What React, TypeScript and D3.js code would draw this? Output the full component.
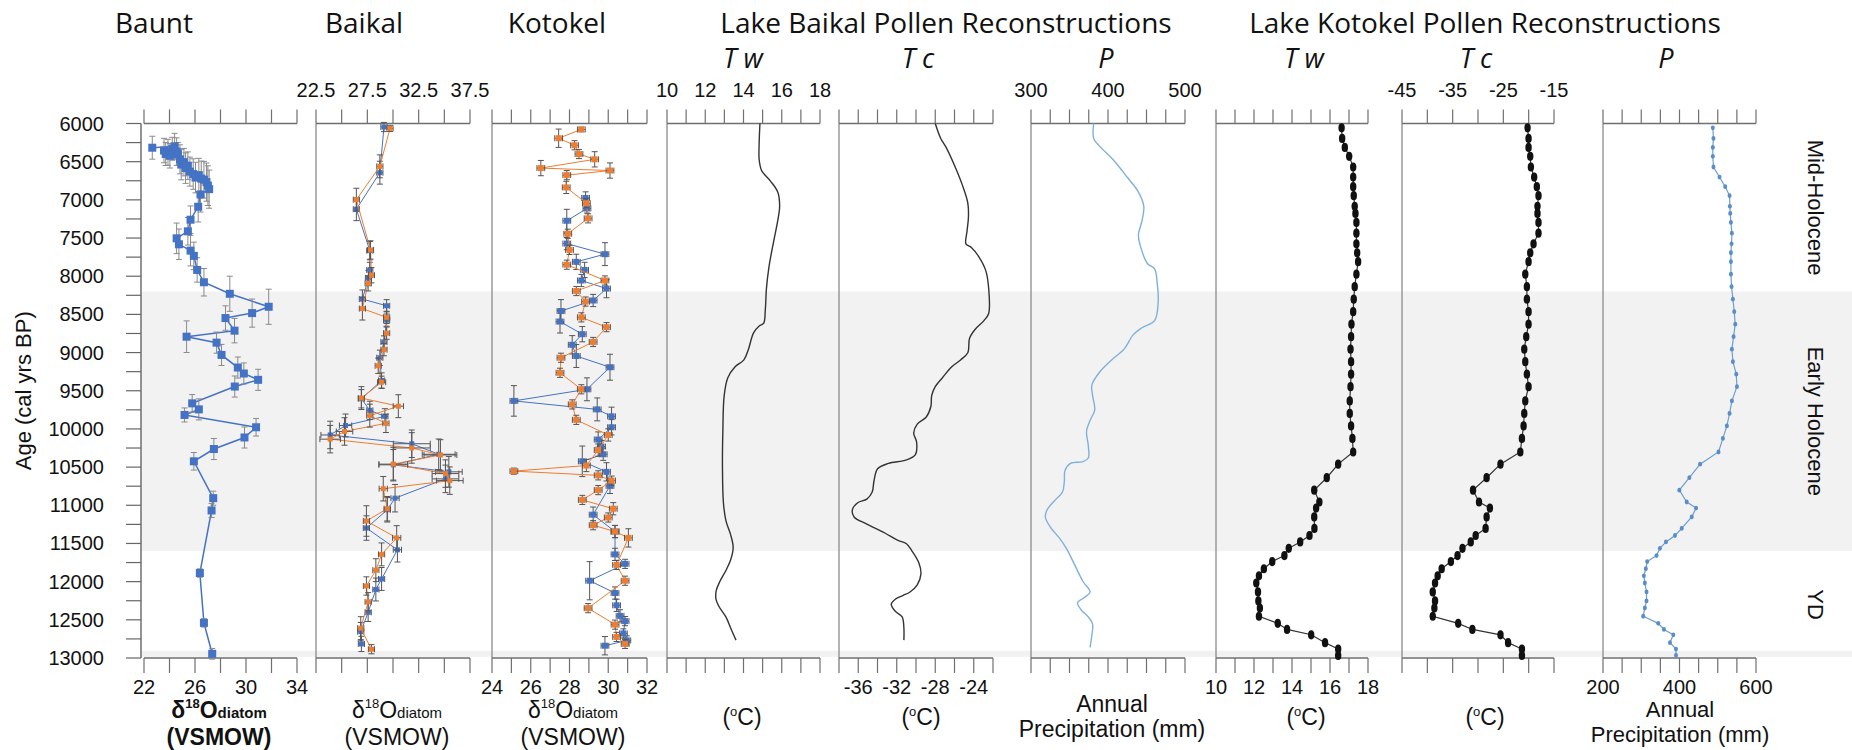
import React from "react";
import * as d3 from "d3";

const WIDTH = 1852;
const HEIGHT = 750;
const TOP = 123.5;
const BOTTOM = 658;

// ---------- age axis ----------
const ageLabelTicks = d3.range(6000, 13001, 500);
const ageMinorTicks = d3.range(6000, 13001, 250);
const zoneBreaks = [8200, 11600];
const zoneNames = ["Mid-Holocene", "Early Holocene", "YD"];
const zoneCentres = [7100, 9900, 12300];

// ---------- Baunt diatom δ18O ----------
const bauntAge = [6317, 6299, 6331, 6354, 6377, 6400, 6368, 6400, 6423, 6469, 6506, 6538, 6552, 6584, 6630, 6662, 6676, 6708, 6722, 6736, 6768, 6814, 6860, 6929, 7090, 7260, 7412, 7504, 7582, 7665, 7734, 7918, 8079, 8230, 8400, 8483, 8548, 8713, 8792, 8870, 9031, 9196, 9274, 9357, 9445, 9665, 9744, 9817, 9978, 10112, 10263, 10424, 10907, 11068, 11887, 12540, 12945];
const bauntD18O = [22.65, 24.4, 24.22, 23.57, 23.88, 23.7, 24.56, 24.66, 24.03, 24.82, 25.13, 24.92, 25.44, 25.26, 25.6, 25.86, 26.3, 26.04, 26.49, 26.7, 26.9, 27.01, 27.11, 26.43, 26.25, 25.65, 25.44, 24.56, 24.74, 25.65, 25.91, 26.17, 26.7, 28.73, 31.78, 30.48, 28.39, 29.1, 25.34, 27.69, 28.08, 29.36, 29.83, 30.95, 29.12, 25.78, 26.3, 25.18, 30.79, 29.88, 27.48, 25.91, 27.43, 27.3, 26.38, 26.7, 27.35];
const bauntAgeErr = [150, 170, 150, 160, 170, 150, 180, 150, 160, 190, 180, 200, 180, 200, 190, 200, 220, 200, 230, 240, 250, 260, 250, 230, 200, 180, 180, 200, 200, 200, 180, 160, 180, 230, 230, 184, 160, 160, 207, 138, 138, 138, 138, 138, 138, 115, 138, 92, 115, 138, 138, 115, 92, 92, 55, 55, 70];

// ---------- Baikal diatom δ18O (two records) ----------
const baikalOrangeAge = [6064, 6561, 6998, 7656, 7987, 8093, 8424, 8539, 8746, 8962, 9173, 9389, 9596, 9702, 9826, 9927, 10033, 10134, 10249, 10341, 10461, 10585, 10677, 10783, 11045, 11206, 11427, 11643, 11850, 12057, 12264, 12609, 12885];
const baikalOrangeD18O = [29.71, 28.72, 26.43, 27.81, 27.9, 27.58, 27.02, 29.38, 29.38, 29.12, 28.56, 28.89, 26.92, 30.52, 27.74, 29.31, 25.28, 23.88, 31.83, 34.62, 30.03, 35.11, 35.53, 29.05, 29.44, 27.41, 30.36, 28.89, 28.33, 27.41, 27.58, 26.86, 27.9];
const baikalOrangeErr = [0.3, 0.3, 0.3, 0.3, 0.3, 0.3, 0.3, 0.3, 0.3, 0.3, 0.3, 0.4, 0.3, 0.5, 0.3, 0.3, 0.8, 1.0, 1.8, 1.6, 1.4, 1.3, 1.3, 0.4, 0.3, 0.3, 0.4, 0.3, 0.3, 0.3, 0.3, 0.3, 0.3];
const baikalOrangeAgeErr = [40, 150, 150, 120, 100, 100, 150, 80, 80, 80, 100, 80, 150, 150, 150, 120, 180, 180, 200, 200, 220, 180, 180, 160, 160, 200, 160, 150, 150, 120, 120, 150, 60];
const baikalBlueAge = [6046, 6644, 7122, 7665, 7918, 8024, 8300, 8387, 8575, 8861, 9068, 9366, 9605, 9757, 9835, 9955, 10079, 10194, 10332, 10470, 10562, 10654, 10907, 11059, 11298, 11583, 11965, 12103, 12402, 12655, 12816];
const baikalBlueD18O = [29.12, 28.72, 26.43, 27.74, 27.74, 27.61, 27.02, 29.38, 29.38, 29.12, 28.72, 28.89, 26.92, 27.74, 29.21, 25.38, 23.88, 31.83, 34.45, 30.03, 35.44, 35.11, 30.2, 29.44, 27.41, 30.43, 28.89, 28.33, 27.58, 26.86, 26.92];
const baikalBlueErr = [0.3, 0.3, 0.3, 0.3, 0.3, 0.3, 0.3, 0.3, 0.3, 0.3, 0.3, 0.3, 0.3, 0.3, 0.3, 0.6, 0.9, 1.8, 1.6, 1.4, 1.3, 1.3, 0.4, 0.3, 0.3, 0.4, 0.3, 0.3, 0.3, 0.3, 0.3];
const baikalBlueAgeErr = [60, 150, 150, 120, 100, 100, 120, 80, 80, 80, 100, 100, 120, 120, 100, 150, 180, 180, 200, 200, 200, 180, 180, 160, 160, 160, 150, 150, 120, 120, 100];

// ---------- Kotokel diatom δ18O (two records) ----------
const kotokelOrangeAge = [6078, 6193, 6285, 6400, 6469, 6584, 6616, 6676, 6837, 7044, 7242, 7444, 7656, 7849, 8056, 8194, 8332, 8539, 8667, 8861, 9068, 9265, 9481, 9679, 9881, 10079, 10277, 10479, 10553, 10608, 10677, 10801, 10930, 11045, 11160, 11261, 11344, 11427, 11781, 11988, 12347, 12563, 12724, 12816];
const kotokelOrangeD18O = [28.61, 27.44, 28.26, 28.49, 29.3, 26.52, 30.09, 27.86, 27.83, 28.87, 28.96, 27.91, 28.0, 27.86, 29.83, 28.35, 28.83, 28.61, 29.91, 29.22, 27.56, 27.51, 28.61, 28.14, 28.35, 30.0, 29.48, 28.87, 25.13, 29.48, 30.17, 29.48, 28.66, 30.26, 30.0, 29.22, 30.35, 31.04, 30.43, 30.87, 28.96, 30.35, 30.43, 30.87];
const kotokelOrangeAgeErr = [30, 120, 60, 60, 100, 100, 100, 60, 80, 60, 60, 60, 60, 60, 60, 60, 60, 60, 60, 60, 60, 60, 60, 60, 60, 80, 80, 80, 40, 60, 60, 60, 60, 80, 60, 60, 80, 120, 60, 60, 60, 60, 60, 60];
const kotokelBlueAge = [6975, 7113, 7274, 7573, 7711, 7812, 7918, 8056, 8162, 8318, 8456, 8594, 8759, 8898, 9045, 9192, 9481, 9633, 9744, 9835, 9978, 10139, 10231, 10332, 10424, 10562, 10746, 11123, 11344, 11643, 11767, 11988, 12149, 12310, 12448, 12517, 12678, 12770, 12839];
const kotokelBlueD18O = [28.83, 28.9, 27.86, 27.86, 29.83, 28.35, 28.78, 28.61, 29.91, 29.22, 27.56, 27.51, 28.66, 28.14, 28.35, 30.09, 28.9, 25.13, 29.43, 30.17, 30.17, 29.48, 29.65, 29.74, 28.66, 29.91, 30.09, 29.22, 30.35, 30.35, 30.87, 29.04, 30.35, 30.43, 30.61, 30.87, 30.78, 30.96, 29.83];
const kotokelBlueAgeErr = [80, 60, 150, 80, 150, 100, 100, 80, 120, 80, 150, 150, 100, 120, 150, 170, 150, 200, 150, 120, 100, 100, 80, 80, 200, 120, 100, 100, 80, 80, 60, 250, 80, 80, 80, 60, 60, 60, 120];
const kotokelD18OErr = 0.2;

// ---------- Lake Baikal pollen reconstructions ----------
const baikalTwAge = [6000, 6243, 6477, 6617, 6757, 6898, 7085, 7272, 7552, 7880, 8160, 8441, 8619, 8651, 8745, 8955, 9096, 9189, 9329, 9563, 10031, 10498, 10966, 11200, 11387, 11550, 11714, 11854, 11995, 12112, 12228, 12322, 12462, 12626, 12766];
const baikalTw = [14.86, 14.82, 14.82, 14.95, 15.42, 15.79, 15.89, 15.79, 15.57, 15.33, 15.2, 15.14, 15.05, 14.82, 14.52, 14.26, 14.02, 13.55, 13.18, 12.99, 12.92, 12.9, 12.95, 13.08, 13.33, 13.46, 13.33, 13.08, 12.77, 12.58, 12.56, 12.71, 13.08, 13.36, 13.61];
const baikalTcAge = [6000, 6196, 6313, 6570, 6804, 7038, 7225, 7412, 7576, 7623, 7739, 7927, 8160, 8488, 8581, 8698, 8815, 9002, 9096, 9189, 9329, 9446, 9563, 9703, 9844, 9937, 10054, 10171, 10335, 10405, 10452, 10522, 10685, 10826, 10919, 10966, 11059, 11153, 11246, 11363, 11457, 11504, 11597, 11761, 11901, 12041, 12135, 12182, 12228, 12298, 12392, 12462, 12603, 12766];
const baikalTc = [-28.0, -27.43, -26.87, -25.93, -25.19, -24.62, -24.55, -24.7, -24.81, -24.25, -23.5, -22.75, -22.45, -22.45, -22.94, -23.87, -24.44, -24.62, -25.37, -26.31, -27.25, -28.0, -28.37, -28.45, -28.93, -29.87, -30.24, -29.94, -30.06, -30.99, -32.87, -33.99, -34.37, -34.55, -35.11, -36.05, -36.61, -36.43, -35.11, -33.24, -31.93, -30.99, -30.43, -29.68, -29.49, -29.87, -30.62, -31.37, -32.12, -32.57, -32.12, -31.44, -31.26, -31.26];
const baikalPAge = [6000, 6196, 6290, 6477, 6711, 6898, 7085, 7272, 7459, 7599, 7833, 7903, 8067, 8347, 8581, 8675, 8768, 8955, 9096, 9236, 9423, 9563, 9750, 9890, 10031, 10218, 10381, 10428, 10452, 10545, 10685, 10826, 10943, 11059, 11153, 11293, 11433, 11574, 11761, 11995, 12135, 12205, 12275, 12369, 12462, 12556, 12696, 12860];
const baikalP = [381.4, 381.4, 388.4, 407.0, 425.6, 439.5, 446.5, 444.2, 439.5, 441.9, 451.2, 460.5, 463.7, 465.1, 460.5, 444.2, 432.6, 420.9, 404.7, 390.7, 379.1, 380.0, 382.8, 376.7, 372.1, 374.4, 374.4, 367.4, 351.2, 344.2, 343.3, 340.9, 330.2, 320.9, 318.6, 325.6, 337.2, 346.5, 355.8, 367.4, 376.7, 369.8, 360.5, 365.1, 374.4, 380.0, 379.1, 376.7];

// ---------- Lake Kotokel pollen reconstructions ----------
const kotokelPollenAge = [6056, 6196, 6313, 6430, 6570, 6701, 6828, 6945, 7085, 7178, 7295, 7436, 7576, 7693, 7810, 7973, 8137, 8301, 8464, 8628, 8792, 8955, 9119, 9283, 9446, 9633, 9797, 9961, 10124, 10302, 10461, 10639, 10802, 10957, 11036, 11153, 11303, 11396, 11480, 11564, 11658, 11737, 11831, 11924, 12018, 12135, 12252, 12345, 12453, 12546, 12626, 12696, 12799, 12883, 12967];
const kotokelTw = [16.61, 16.64, 16.78, 17.01, 17.22, 17.22, 17.22, 17.25, 17.3, 17.34, 17.39, 17.39, 17.39, 17.43, 17.48, 17.39, 17.3, 17.25, 17.22, 17.13, 17.11, 17.08, 17.11, 17.11, 17.08, 17.04, 17.04, 17.11, 17.18, 17.22, 16.43, 15.83, 15.17, 15.44, 15.27, 15.17, 15.18, 14.92, 14.43, 13.83, 13.6, 12.96, 12.52, 12.26, 12.12, 12.21, 12.23, 12.31, 12.26, 13.25, 13.74, 15.01, 15.74, 16.43, 16.43];
const kotokelTc = [-20.22, -20.02, -20.02, -19.69, -19.56, -18.91, -18.39, -18.06, -18.26, -18.26, -18.06, -18.06, -19.04, -19.69, -20.02, -20.67, -20.35, -20.35, -20.02, -20.02, -20.48, -20.87, -20.67, -20.35, -20.02, -20.67, -20.87, -21.0, -21.33, -21.65, -25.56, -28.3, -30.98, -29.8, -27.65, -28.3, -28.5, -30.46, -31.43, -33.06, -34.04, -35.35, -37.17, -37.96, -38.48, -38.93, -38.48, -38.61, -38.93, -33.91, -31.11, -25.56, -24.06, -21.33, -21.33];
const kotokelP = [487.1, 488.8, 487.1, 487.1, 488.8, 504.6, 519.5, 530.9, 531.7, 532.6, 534.4, 537.0, 536.1, 534.4, 534.4, 534.4, 536.1, 539.6, 543.1, 545.7, 541.4, 537.0, 539.6, 548.4, 550.1, 537.0, 530.9, 523.9, 513.4, 502.0, 453.8, 425.8, 399.6, 418.8, 443.3, 432.0, 405.7, 388.2, 364.6, 348.8, 340.0, 315.5, 312.0, 306.8, 309.4, 313.8, 313.8, 309.4, 305.0, 344.4, 359.3, 383.8, 375.1, 390.8, 390.8];

// ---------- axis ticks and labels ----------
const bauntTicks = d3.range(22, 34.01, 2);
const bauntBottomLabels = [22, 26, 30, 34];
const baikalTicks = d3.range(22.5, 37.51, 2.5);
const baikalTopLabels = [22.5, 27.5, 32.5, 37.5];
const kotokelTicks = d3.range(24, 32.01, 1);
const kotokelBottomLabels = [24, 26, 28, 30, 32];
const twTicks = d3.range(10, 18.01, 1);
const twLabels = [10, 12, 14, 16, 18];
const baikalTcTicks = d3.range(-38, -21.99, 2);
const baikalTcLabels = [-36, -32, -28, -24];
const baikalPTicks = d3.range(300, 500.01, 25);
const baikalPLabels = [300, 400, 500];
const kotokelTcTicks = d3.range(-45, -14.99, 5);
const kotokelTcLabels = [-45, -35, -25, -15];
const kotokelPTicks = d3.range(200, 600.01, 50);
const kotokelPLabels = [200, 400, 600];

const ageScale = d3.scaleLinear().domain([6000, 13000]).range([TOP, BOTTOM]);

const TICK_FONT = "'Liberation Sans', Arial, Helvetica, sans-serif";
const TITLE_FONT = "'Open Sans', 'Noto Sans', sans-serif";
const AXIS = "#6f6f6f";
const BLUE = "#4472c4";
const ORANGE = "#ed7d31";

type Scale = d3.ScaleLinear<number, number>;

function PanelAxes(props: {
  scale: Scale;
  ticks: number[];
  topLabels?: number[];
  bottomLabels?: number[];
  leftLine?: boolean;
}) {
  const { scale, ticks, topLabels = [], bottomLabels = [], leftLine = true } = props;
  const [x0, x1] = scale.range();
  return (
    <g>
      {leftLine && <line x1={x0} x2={x0} y1={TOP} y2={BOTTOM} stroke="#8a8a8a" strokeWidth={1.3} />}
      <line x1={x0} x2={x1} y1={TOP} y2={TOP} stroke={AXIS} strokeWidth={1.3} />
      <line x1={x0} x2={x1} y1={BOTTOM} y2={BOTTOM} stroke={AXIS} strokeWidth={1.3} />
      {ticks.map((t) => (
        <g key={t}>
          <line x1={scale(t)} x2={scale(t)} y1={TOP} y2={TOP - 14} stroke={AXIS} strokeWidth={1.2} />
          <line x1={scale(t)} x2={scale(t)} y1={BOTTOM} y2={BOTTOM + 15} stroke={AXIS} strokeWidth={1.2} />
        </g>
      ))}
      {topLabels.map((v) => (
        <text key={"t" + v} x={scale(v)} y={97} textAnchor="middle" fontSize={20} fontFamily={TICK_FONT} fill="#111">
          {String(v)}
        </text>
      ))}
      {bottomLabels.map((v) => (
        <text key={"b" + v} x={scale(v)} y={694} textAnchor="middle" fontSize={20} fontFamily={TICK_FONT} fill="#111">
          {String(v)}
        </text>
      ))}
    </g>
  );
}

function ErrorSeries(props: {
  scale: Scale;
  ages: number[];
  values: number[];
  color: string;
  ageErr: number[];
  valueErr?: number[] | number;
  size: number;
  lineWidth: number;
  barColor: string;
}) {
  const { scale, ages, values, color, ageErr, valueErr, size, lineWidth, barColor } = props;
  const path = d3
    .line<number>()
    .x((_, i) => scale(values[i]))
    .y((_, i) => ageScale(ages[i]))(ages);
  const cap = 3;
  return (
    <g>
      <path d={path || ""} fill="none" stroke={color} strokeWidth={lineWidth} />
      {ages.map((a, i) => {
        const x = scale(values[i]);
        const y = ageScale(a);
        const ya = ageScale(a - ageErr[i]);
        const yb = ageScale(a + ageErr[i]);
        const ve = valueErr === undefined ? 0 : typeof valueErr === "number" ? valueErr : valueErr[i];
        const xa = scale(values[i] - ve);
        const xb = scale(values[i] + ve);
        return (
          <g key={i} stroke={barColor} strokeWidth={1}>
            <line x1={x} x2={x} y1={ya} y2={yb} />
            <line x1={x - cap} x2={x + cap} y1={ya} y2={ya} />
            <line x1={x - cap} x2={x + cap} y1={yb} y2={yb} />
            {ve > 0 && (
              <>
                <line x1={xa} x2={xb} y1={y} y2={y} />
                <line x1={xa} x2={xa} y1={y - cap} y2={y + cap} />
                <line x1={xb} x2={xb} y1={y - cap} y2={y + cap} />
              </>
            )}
          </g>
        );
      })}
      {ages.map((a, i) => (
        <rect
          key={"m" + i}
          x={scale(values[i]) - size / 2}
          y={ageScale(a) - size / 2}
          width={size}
          height={size}
          fill={color}
        />
      ))}
    </g>
  );
}

function SmoothCurve(props: { scale: Scale; ages: number[]; values: number[]; color: string; width: number }) {
  const { scale, ages, values, color, width } = props;
  const path = d3
    .line<number>()
    .x((_, i) => scale(values[i]))
    .y((_, i) => ageScale(ages[i]))
    .curve(d3.curveCatmullRom.alpha(0.5))(ages);
  return <path d={path || ""} fill="none" stroke={color} strokeWidth={width} strokeLinejoin="round" />;
}

function DotCurve(props: {
  scale: Scale;
  ages: number[];
  values: number[];
  lineColor: string;
  dotColor: string;
  rx: number;
  ry: number;
  width: number;
}) {
  const { scale, ages, values, lineColor, dotColor, rx, ry, width } = props;
  const path = d3
    .line<number>()
    .x((_, i) => scale(values[i]))
    .y((_, i) => ageScale(ages[i]))(ages);
  return (
    <g>
      <path d={path || ""} fill="none" stroke={lineColor} strokeWidth={width} />
      {ages.map((a, i) => (
        <ellipse key={i} cx={scale(values[i])} cy={ageScale(a)} rx={rx} ry={ry} fill={dotColor} />
      ))}
    </g>
  );
}

function DeltaLabel(props: { x: number; bold?: boolean }) {
  const { x, bold } = props;
  const w = bold ? 700 : 400;
  return (
    <g fontFamily={TICK_FONT} fill="#111" fontWeight={w}>
      <text x={x} y={718} textAnchor="middle" fontSize={23}>
        δ<tspan fontSize={13} dy={-10}>18</tspan>
        <tspan fontSize={23} dy={10}>O</tspan>
        <tspan fontSize={15}>diatom</tspan>
      </text>
      <text x={x} y={745} textAnchor="middle" fontSize={23}>
        (VSMOW)
      </text>
    </g>
  );
}

function CelsiusLabel(props: { x: number }) {
  return (
    <text x={props.x} y={725} textAnchor="middle" fontSize={23} fontFamily={TICK_FONT} fill="#111">
      (<tspan fontSize={13} dy={-9}>o</tspan>
      <tspan dy={9}>C)</tspan>
    </text>
  );
}

function PrecipLabel(props: { x: number; y: number; size: number }) {
  return (
    <g fontFamily={TICK_FONT} fill="#111" fontSize={props.size} textAnchor="middle">
      <text x={props.x} y={props.y}>Annual</text>
      <text x={props.x} y={props.y + 25}>Precipitation (mm)</text>
    </g>
  );
}

export default function App() {
  const baunt = d3.scaleLinear().domain([22, 34]).range([144, 297]);
  const baikal = d3.scaleLinear().domain([22.5, 37.5]).range([316, 470]);
  const kotokel = d3.scaleLinear().domain([24, 32]).range([492, 647]);
  const bTw = d3.scaleLinear().domain([10, 18]).range([667, 820]);
  const bTc = d3.scaleLinear().domain([-38, -22]).range([839, 993]);
  const bP = d3.scaleLinear().domain([300, 500]).range([1031, 1185]);
  const kTw = d3.scaleLinear().domain([10, 18]).range([1216, 1368]);
  const kTc = d3.scaleLinear().domain([-45, -15]).range([1402, 1554]);
  const kP = d3.scaleLinear().domain([200, 600]).range([1603, 1756]);

  const yAxisX = 141;

  return (
    <svg
      width={WIDTH}
      height={HEIGHT}
      viewBox={`0 0 ${WIDTH} ${HEIGHT}`}
      style={{ position: "absolute", left: 0, top: 0, background: "#fff" }}
    >
      <rect x={0} y={0} width={WIDTH} height={HEIGHT} fill="#fff" />

      {/* Early Holocene shading and the thin strip at the base */}
      <rect
        x={yAxisX}
        y={ageScale(zoneBreaks[0])}
        width={WIDTH - yAxisX}
        height={ageScale(zoneBreaks[1]) - ageScale(zoneBreaks[0])}
        fill="#f2f2f2"
      />
      <rect
        x={yAxisX}
        y={ageScale(12905)}
        width={WIDTH - yAxisX}
        height={ageScale(12985) - ageScale(12905)}
        fill="#f1f1f1"
      />

      {/* age axis */}
      <line x1={yAxisX} x2={yAxisX} y1={TOP} y2={BOTTOM} stroke="#666" strokeWidth={1.4} />
      {ageMinorTicks.map((a) => (
        <line key={a} x1={yAxisX - 15} x2={yAxisX} y1={ageScale(a)} y2={ageScale(a)} stroke="#666" strokeWidth={1.2} />
      ))}
      {ageLabelTicks.map((a) => (
        <text
          key={"l" + a}
          x={104}
          y={ageScale(a)}
          dy="0.35em"
          textAnchor="end"
          fontSize={20}
          fontFamily={TICK_FONT}
          fill="#111"
        >
          {String(a)}
        </text>
      ))}
      <text
        transform={`translate(23, ${ageScale(9500)}) rotate(-90)`}
        textAnchor="middle"
        dy="0.35em"
        fontSize={22}
        fontFamily={TICK_FONT}
        fill="#111"
      >
        Age (cal yrs BP)
      </text>

      {/* panel axes */}
      <PanelAxes scale={baunt} ticks={bauntTicks} bottomLabels={bauntBottomLabels} leftLine={false} />
      <PanelAxes scale={baikal} ticks={baikalTicks} topLabels={baikalTopLabels} />
      <PanelAxes scale={kotokel} ticks={kotokelTicks} bottomLabels={kotokelBottomLabels} />
      <PanelAxes scale={bTw} ticks={twTicks} topLabels={twLabels} />
      <PanelAxes scale={bTc} ticks={baikalTcTicks} bottomLabels={baikalTcLabels} />
      <PanelAxes scale={bP} ticks={baikalPTicks} topLabels={baikalPLabels} />
      <PanelAxes scale={kTw} ticks={twTicks} bottomLabels={twLabels} />
      <PanelAxes scale={kTc} ticks={kotokelTcTicks} topLabels={kotokelTcLabels} />
      <PanelAxes scale={kP} ticks={kotokelPTicks} bottomLabels={kotokelPLabels} />

      {/* diatom isotope records */}
      <ErrorSeries
        scale={baunt}
        ages={bauntAge}
        values={bauntD18O}
        color={BLUE}
        ageErr={bauntAgeErr}
        size={8}
        lineWidth={1.5}
        barColor="#8a8a8a"
      />
      <ErrorSeries
        scale={baikal}
        ages={baikalBlueAge}
        values={baikalBlueD18O}
        color={BLUE}
        ageErr={baikalBlueAgeErr}
        valueErr={baikalBlueErr}
        size={5}
        lineWidth={1}
        barColor="#555"
      />
      <ErrorSeries
        scale={baikal}
        ages={baikalOrangeAge}
        values={baikalOrangeD18O}
        color={ORANGE}
        ageErr={baikalOrangeAgeErr}
        valueErr={baikalOrangeErr}
        size={5}
        lineWidth={1}
        barColor="#555"
      />
      <ErrorSeries
        scale={kotokel}
        ages={kotokelBlueAge}
        values={kotokelBlueD18O}
        color={BLUE}
        ageErr={kotokelBlueAgeErr}
        valueErr={kotokelD18OErr}
        size={6}
        lineWidth={1}
        barColor="#555"
      />
      <ErrorSeries
        scale={kotokel}
        ages={kotokelOrangeAge}
        values={kotokelOrangeD18O}
        color={ORANGE}
        ageErr={kotokelOrangeAgeErr}
        valueErr={kotokelD18OErr}
        size={6}
        lineWidth={1}
        barColor="#555"
      />

      {/* Lake Baikal pollen curves */}
      <SmoothCurve scale={bTw} ages={baikalTwAge} values={baikalTw} color="#333" width={1.4} />
      <SmoothCurve scale={bTc} ages={baikalTcAge} values={baikalTc} color="#333" width={1.4} />
      <SmoothCurve scale={bP} ages={baikalPAge} values={baikalP} color="#7fb0dc" width={1.4} />

      {/* Lake Kotokel pollen curves */}
      <DotCurve scale={kTw} ages={kotokelPollenAge} values={kotokelTw} lineColor="#333" dotColor="#111" rx={3.2} ry={4.6} width={1.2} />
      <DotCurve scale={kTc} ages={kotokelPollenAge} values={kotokelTc} lineColor="#333" dotColor="#111" rx={3.2} ry={4.6} width={1.2} />
      <DotCurve scale={kP} ages={kotokelPollenAge} values={kotokelP} lineColor="#6d9fd0" dotColor="#5b8ec8" rx={2} ry={2.4} width={1.2} />

      {/* titles */}
      <g fontFamily={TITLE_FONT} fontSize={28} fill="#111" textAnchor="middle">
        <text x={154} y={33}>Baunt</text>
        <text x={364} y={33}>Baikal</text>
        <text x={557} y={33}>Kotokel</text>
        <text x={946} y={33}>Lake Baikal Pollen Reconstructions</text>
        <text x={1485} y={33}>Lake Kotokel Pollen Reconstructions</text>
      </g>
      <g fontFamily={TITLE_FONT} fontSize={27} fill="#111" textAnchor="middle" fontStyle="italic">
        <text x={743} y={68}>T w</text>
        <text x={918} y={68}>T c</text>
        <text x={1106} y={68}>P</text>
        <text x={1304} y={68}>T w</text>
        <text x={1476} y={68}>T c</text>
        <text x={1666} y={68}>P</text>
      </g>

      {/* axis titles below panels */}
      <DeltaLabel x={219} bold />
      <DeltaLabel x={397} />
      <DeltaLabel x={573} />
      <CelsiusLabel x={742} />
      <CelsiusLabel x={921} />
      <PrecipLabel x={1112} y={712} size={23} />
      <CelsiusLabel x={1306} />
      <CelsiusLabel x={1485} />
      <PrecipLabel x={1680} y={717} size={22} />

      {/* climate zone labels */}
      {zoneNames.map((name, i) => (
        <text
          key={name}
          transform={`translate(1816, ${ageScale(zoneCentres[i])}) rotate(90)`}
          textAnchor="middle"
          dy="0.35em"
          fontSize={22}
          fontFamily={TICK_FONT}
          fill="#111"
        >
          {name}
        </text>
      ))}
    </svg>
  );
}
